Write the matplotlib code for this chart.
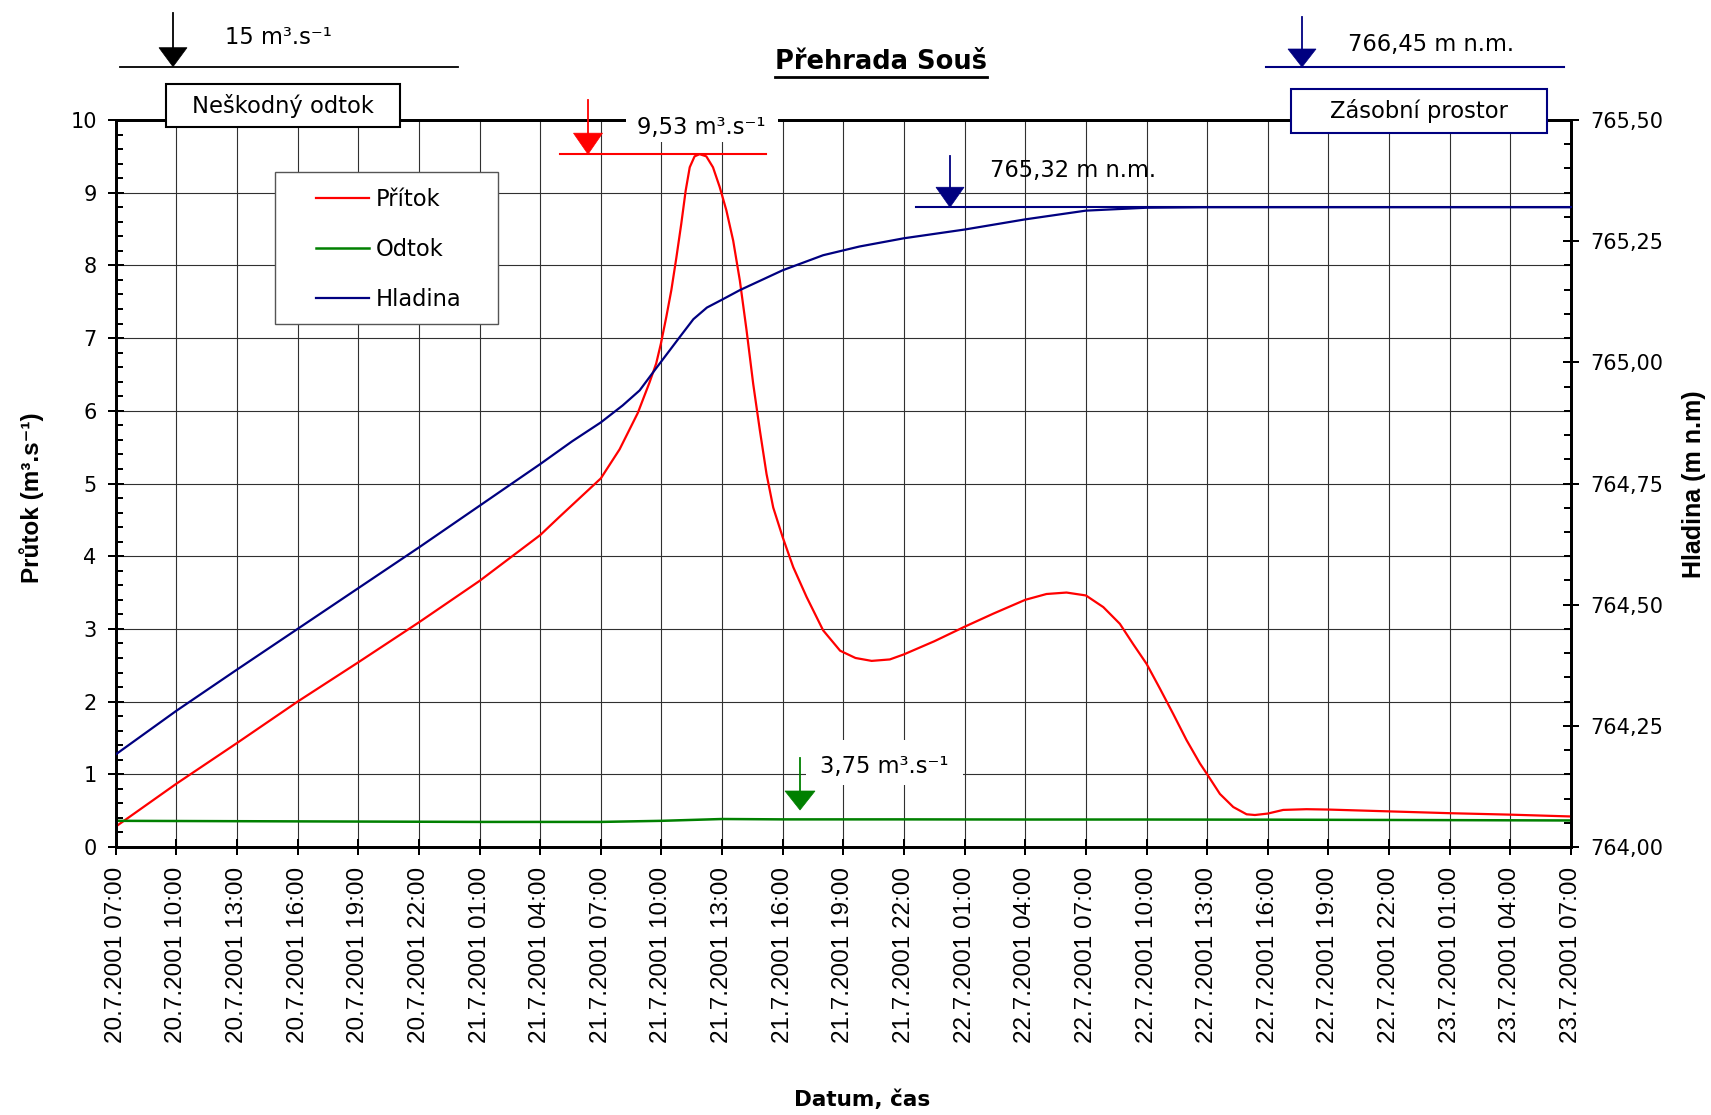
import matplotlib
matplotlib.use("Agg")
import matplotlib.pyplot as plt
from matplotlib import transforms, font_manager as fm
from matplotlib.lines import Line2D
from matplotlib.patches import Rectangle, Polygon
from matplotlib.ticker import MultipleLocator, FuncFormatter

# ---------------- data (hours since 20.7.2001 07:00) ----------------
tick_hours = list(range(0, 73, 3))
tick_labels = [
    "20.7.2001 07:00", "20.7.2001 10:00", "20.7.2001 13:00", "20.7.2001 16:00",
    "20.7.2001 19:00", "20.7.2001 22:00", "21.7.2001 01:00", "21.7.2001 04:00",
    "21.7.2001 07:00", "21.7.2001 10:00", "21.7.2001 13:00", "21.7.2001 16:00",
    "21.7.2001 19:00", "21.7.2001 22:00", "22.7.2001 01:00", "22.7.2001 04:00",
    "22.7.2001 07:00", "22.7.2001 10:00", "22.7.2001 13:00", "22.7.2001 16:00",
    "22.7.2001 19:00", "22.7.2001 22:00", "23.7.2001 01:00", "23.7.2001 04:00",
    "23.7.2001 07:00",
]

pritok_h = [0, 3, 6, 9, 12, 15, 18, 21,
            21.95, 24, 24.93, 25.83, 26.41, 26.74, 26.97, 27.24, 27.49, 27.74,
            27.98, 28.2, 28.4, 28.64, 28.89, 29.22, 29.55, 29.88, 30.21, 30.55,
            30.88, 31.21, 31.54, 31.87, 32.2, 32.53, 33.0, 33.52, 34.18, 35.0,
            35.84, 36.6, 37.4, 38.3, 39, 40.5, 42, 43.42, 45, 46.05,
            47.04, 48, 48.86, 49.68, 50.34, 51, 51.66, 52.32, 52.98, 53.64,
            54, 54.63, 55.29, 55.95, 56.36, 57, 57.76, 58.91, 60, 63,
            66, 69, 72]
pritok = [0.28, 0.87, 1.43, 2.00, 2.54, 3.09, 3.66, 4.29,
          4.54, 5.07, 5.47, 5.97, 6.39, 6.65, 6.92, 7.29, 7.66, 8.11,
          8.57, 9.03, 9.35, 9.50, 9.53, 9.50, 9.35, 9.08, 8.76, 8.34,
          7.79, 7.11, 6.37, 5.73, 5.13, 4.67, 4.26, 3.85, 3.44, 2.98,
          2.70, 2.60, 2.56, 2.58, 2.65, 2.83, 3.03, 3.21, 3.40, 3.48,
          3.50, 3.46, 3.30, 3.07, 2.79, 2.52, 2.18, 1.83, 1.47, 1.15,
          1.00, 0.73, 0.55, 0.45, 0.44, 0.46, 0.51, 0.52, 0.515, 0.49,
          0.465, 0.445, 0.42]

odtok_h = [0, 6, 12, 18, 24, 27, 30, 33, 39, 45, 51, 57, 63, 72]
odtok = [0.36, 0.355, 0.35, 0.345, 0.345, 0.36, 0.385, 0.38, 0.38, 0.378, 0.378,
         0.376, 0.372, 0.365]

hladina_h = [0, 3, 6, 9, 12, 15, 18, 21,
             22.58, 24, 25.08, 25.92, 26.67, 27.25, 27.92, 28.58, 29.25, 30.03, 30.88,
             33, 35, 36.8, 39, 42, 45, 48, 51, 54, 60, 66, 72]
hladina = [764.191, 764.281, 764.366, 764.450, 764.534, 764.618, 764.704, 764.790,
           764.837, 764.876, 764.911, 764.942, 764.984, 765.016, 765.053, 765.089, 765.113,
           765.130, 765.149,
           765.190, 765.221, 765.239, 765.256, 765.274, 765.295, 765.313, 765.319, 765.320,
           765.320, 765.320, 765.320]

series_names = ["Přítok", "Odtok", "Hladina"]
peak_inflow = 9.53
max_level = 765.32
peak_inflow_text = "9,53 m³.s⁻¹"
safe_outflow_text = "15 m³.s⁻¹"
max_outflow_text = "3,75 m³.s⁻¹"
max_level_text = "765,32 m n.m."
storage_level_text = "766,45 m n.m."

# ---------------- figure ----------------
W, H, DPI = 1711, 1115, 100
fig = plt.figure(figsize=(W / DPI, H / DPI), dpi=DPI)
fig.patch.set_facecolor("white")
AX_L, AX_R, AX_T, AX_B = 115.7, 1571.0, 120.0, 847.0
ax = fig.add_axes([AX_L / W, 1 - AX_B / H, (AX_R - AX_L) / W, (AX_B - AX_T) / H])
ax2 = ax.twinx()
pixT = transforms.Affine2D().scale(1 / DPI, -1 / DPI).translate(0, H / DPI) + fig.dpi_scale_trans

avail = {f.name for f in fm.fontManager.ttflist}
if "Liberation Sans Narrow" in avail:
    ROT_FAM = ["Liberation Sans Narrow", "DejaVu Sans"]
    ROT_SIZE, ROT_LAB = 21.5, 20.5
else:
    ROT_FAM = ["Liberation Sans", "DejaVu Sans"]
    ROT_SIZE, ROT_LAB = 17.5, 17.5

RED, GREEN, NAVY = "#ff0000", "#008000", "#000080"
l1, = ax.plot(pritok_h, pritok, color=RED, lw=1.6, zorder=3, solid_joinstyle="round")
l2, = ax.plot(odtok_h, odtok, color=GREEN, lw=1.8, zorder=3)
l3, = ax2.plot(hladina_h, hladina, color=NAVY, lw=1.6, zorder=3, solid_joinstyle="round")

ax.set_xlim(0, 72)
ax.set_ylim(0, 10)
ax2.set_ylim(764.0, 765.5)

ax.set_xticks(tick_hours)
ax.set_xticklabels(tick_labels, rotation=90, ha="center", va="top")
for t in ax.get_xticklabels():
    t.set_fontfamily(ROT_FAM)
    t.set_fontsize(ROT_SIZE)
ax.yaxis.set_major_locator(MultipleLocator(1))
ax.yaxis.set_minor_locator(MultipleLocator(0.2))
ax2.yaxis.set_major_locator(MultipleLocator(0.25))
ax2.yaxis.set_minor_locator(MultipleLocator(0.05))
ax2.yaxis.set_major_formatter(FuncFormatter(lambda v, p: f"{v:.2f}".replace(".", ",")))

ax.tick_params(axis="x", which="major", direction="inout", length=11.5, width=1.44, pad=8.6, top=False)
ax.tick_params(axis="y", which="major", direction="inout", length=11.5, width=1.44, pad=7.9,
               labelsize=15, right=False)
ax.tick_params(axis="y", which="minor", direction="in", length=5, width=1.44, right=False)
ax2.tick_params(axis="y", which="major", direction="inout", length=11.5, width=1.44, pad=8.2,
                labelsize=15)
ax2.tick_params(axis="y", which="minor", direction="in", length=5, width=1.44)

for a in (ax, ax2):
    for s in a.spines.values():
        s.set_linewidth(2.0)
        s.set_color("black")

ax.grid(True, which="major", axis="both", color="#303030", lw=0.8)
ax.set_axisbelow(True)


# ---------------- helpers ----------------
def ypix(axis, v):
    return H - axis.transData.transform((0, v))[1]


def arrow(X, Ytop, Ytip, color, hw=28, hh=19, lw=1.3):
    fig.add_artist(Line2D([X, X], [Ytop, Ytip - hh + 2], transform=pixT, color=color, lw=lw, zorder=2))
    fig.add_artist(Polygon([[X - hw / 2, Ytip - hh], [X + hw / 2, Ytip - hh], [X, Ytip]], closed=True,
                           transform=pixT, facecolor=color, edgecolor=color, lw=0.5, zorder=2.5))


def hline(X0, X1, Y, color, lw=1.3):
    fig.add_artist(Line2D([X0, X1], [Y, Y], transform=pixT, color=color, lw=lw, zorder=2))


def box(X0, Y0, X1, Y1, edge=None, lw=1.5):
    fig.add_artist(Rectangle((X0, Y0), X1 - X0, Y1 - Y0, transform=pixT, facecolor="white",
                             edgecolor=edge if edge else "none", lw=lw, zorder=1.5))


def label(X, Y, s, color="black", size=16.3, **kw):
    return fig.text(X, Y, s, transform=pixT, ha="center", va="baseline", fontsize=size,
                    color=color, zorder=3, **kw)


# safe outflow (top-left)
arrow(173, 13, 66.7, "black", hw=28, hh=19)
hline(120, 458, 66.7, "black")
label(278, 44, safe_outflow_text)
box(166, 84, 400, 127, edge="black")
label(283, 113, "Neškodný odtok")

# peak inflow
y_peak = ypix(ax, peak_inflow)
box(626, 100, 778, 142)
arrow(588, 100, y_peak, RED, hw=29, hh=21)
hline(560, 766, y_peak, RED, lw=1.5)
label(701, 134, peak_inflow_text)

# title
title = label(881, 69.3, "Přehrada Souš", size=18.5, fontweight="bold")

# max level
y_lvl = ypix(ax2, max_level)
arrow(950, 156, y_lvl, NAVY, hw=28, hh=20)
hline(916, AX_R, y_lvl, NAVY, lw=1.5)
label(1073, 177, max_level_text)

# storage level
arrow(1302, 17, 67, NAVY, hw=28, hh=18)
hline(1266, 1564, 67, NAVY, lw=1.5)
label(1431, 51, storage_level_text)
box(1291, 89, 1547, 133, edge=NAVY)
label(1419, 118, "Zásobní prostor")

# max outflow
box(806, 740, 963, 785)
arrow(800, 758, 810, GREEN, hw=30, hh=19)
label(884, 773, max_outflow_text)

# legend
frame = Rectangle((275, 172), 223, 152, transform=pixT, facecolor="white", edgecolor="#555555",
                  lw=1.0, zorder=4)
ax2.add_artist(frame)
frame.set_clip_on(False)
leg = ax2.legend([l1, l2, l3], series_names, loc="upper left", bbox_to_anchor=(316, 188),
                 bbox_transform=pixT, frameon=False, borderpad=0, borderaxespad=0,
                 handlelength=2.35, handletextpad=0.3, labelspacing=1.2, fontsize=16.3)
leg.set_zorder(5)

# axis labels
fig.text(31.5, 498, "Průtok (m³.s⁻¹)", transform=pixT, rotation=90, ha="center", va="center",
         fontsize=ROT_LAB, fontweight="bold", family=ROT_FAM)
fig.text(1694, 484, "Hladina (m n.m)", transform=pixT, rotation=90, ha="center", va="center",
         fontsize=ROT_LAB + 0.5, fontweight="bold", family=ROT_FAM)
fig.text(862, 1100, "Datum, čas", transform=pixT, ha="center", va="center", fontsize=15.5,
         fontweight="bold")

ax.set_xlim(0, 72)
ax.set_ylim(0, 10)
ax2.set_ylim(764.0, 765.5)

# underline of title
fig.canvas.draw()
bb = title.get_window_extent(fig.canvas.get_renderer())
hline(bb.x0, bb.x1, 77, "black", lw=2.0)

fig.savefig("out.png", dpi=DPI, facecolor="white")
